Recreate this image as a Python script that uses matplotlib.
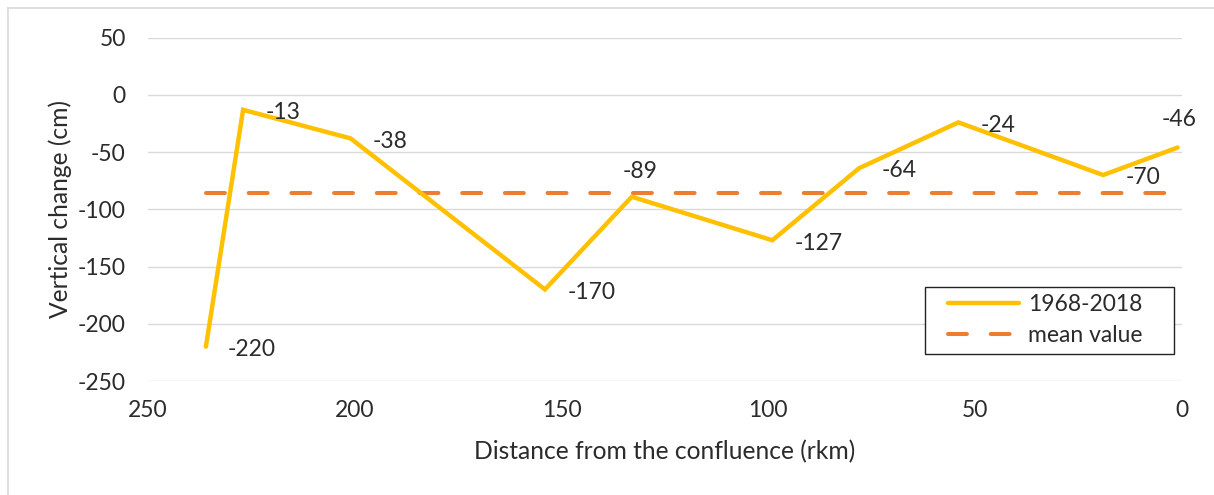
import matplotlib
matplotlib.use('agg')
import matplotlib.pyplot as plt
from matplotlib.lines import Line2D
from matplotlib.patches import Rectangle
import numpy as np

# data
dist_rkm = [236, 227, 201, 154, 133, 99, 78, 54, 19, 1]
change_cm = [-220, -13, -38, -170, -89, -127, -64, -24, -70, -46]
series_name = '1968-2018'
mean_name = 'mean value'

text_col = '#2b2b2b'
fs = 16.5
plt.rcParams['font.family'] = ['Lato', 'DejaVu Sans']
plt.rcParams['font.size'] = fs
plt.rcParams['text.color'] = text_col
plt.rcParams['axes.unicode_minus'] = False

W, H = 1214, 495
fig = plt.figure(figsize=(W/100, H/100), dpi=100)
ax = fig.add_axes([148/W, 1 - 381/H, (1181.7 - 148)/W, (381 - 37.7)/H])

mean_val = np.mean(change_cm)

ax.plot(dist_rkm, change_cm, color='#FFC000', lw=3.2, solid_joinstyle='miter',
        solid_capstyle='round', label=series_name, zorder=3)
ax.plot(dist_rkm, [mean_val]*len(dist_rkm), color='#ED7D31', lw=2.9,
        linestyle=(0, (4.7, 5.9)), dash_capstyle='round', label=mean_name, zorder=2)

# data labels: most sit right of the point, two are lifted above
for x, y in zip(dist_rkm, change_cm):
    if y == -46:
        ax.annotate(str(y), (x, y), xytext=(1, 20), textcoords='offset points',
                    ha='center', va='center', color=text_col)
    elif y == -89:
        ax.annotate(str(y), (x, y), xytext=(6, 18), textcoords='offset points',
                    ha='center', va='center', color=text_col)
    else:
        ax.annotate(str(y), (x, y), xytext=(16, -2), textcoords='offset points',
                    ha='left', va='center', color=text_col)

ax.set_xlim(250, 0)
ax.set_ylim(-250, 50)
ax.set_xticks([250, 200, 150, 100, 50, 0])
ax.set_yticks([50, 0, -50, -100, -150, -200, -250])
ax.grid(axis='y', color='#D9D9D9', lw=1.0)
ax.set_axisbelow(True)
for s in ax.spines.values():
    s.set_visible(False)
ax.tick_params(length=0, colors=text_col, labelsize=fs)
ax.tick_params(axis='y', pad=16)
ax.tick_params(axis='x', pad=14)

ax.set_xlabel('Distance from the confluence (rkm)', fontsize=17.7, color=text_col, va='center')
ax.xaxis.set_label_coords(0.5, -0.207)
ax.set_ylabel('Vertical change (cm)', fontsize=17.7, color=text_col, va='center')
ax.yaxis.set_label_coords(-0.085, 0.5)

# legend without its own frame; the box is drawn separately to get Excel's padding
leg = ax.legend(loc='center left', bbox_to_anchor=(948/W, 1 - 320/H),
                bbox_transform=fig.transFigure, frameon=False,
                handlelength=3.1, handletextpad=0.4, borderpad=0,
                labelspacing=0.45, borderaxespad=0, fontsize=fs)
leg.set_zorder(6)
ax.add_patch(Rectangle((925/W, 1 - 354/H), (1174 - 925)/W, (354 - 287)/H,
                       transform=fig.transFigure, facecolor='white',
                       edgecolor='#222222', lw=1.0, zorder=5, clip_on=False))

# light chart-area border (left and top edges visible)
fig.add_artist(Line2D([8/W, 8/W], [0, 1 - 8/H], color='#D9D9D9', lw=1.2,
                      transform=fig.transFigure))
fig.add_artist(Line2D([8/W, 1], [1 - 8/H, 1 - 8/H], color='#D9D9D9', lw=1.2,
                      transform=fig.transFigure))

fig.savefig('out.png', dpi=100, facecolor='white')
